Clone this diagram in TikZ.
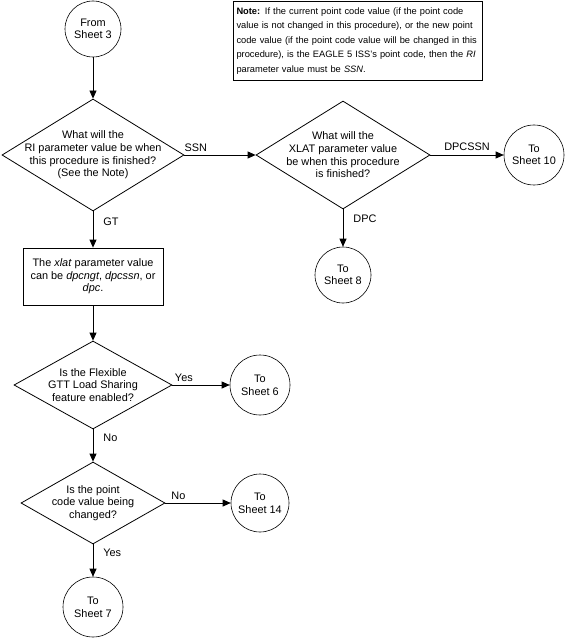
\documentclass[tikz,border=0pt]{standalone}
\usepackage{fontspec}
\setmainfont{Liberation Sans}
\usetikzlibrary{arrows.meta, shapes.geometric}

\begin{document}
\begin{tikzpicture}[
  x=1pt, y=-1pt,
  every node/.style={font=\fontsize{10.9}{12.6}\selectfont, inner sep=0pt},
  decision/.style={diamond, draw, line width=0.8pt},
  dtext/.style={align=center},
  sheet/.style={circle, draw, line width=0.6pt, minimum size=58pt, align=center},
  stepbox/.style={rectangle, draw, line width=0.8pt, align=center},
  notebox/.style={rectangle, draw, line width=1pt, inner xsep=3pt, align=left,
    font=\fontsize{9.3}{14.5}\selectfont},
  flow/.style={draw, line width=0.8pt, -{Triangle[length=8pt,width=7pt]}}
]
\useasboundingbox (0,0) rectangle (565,639);

\node[sheet, minimum size=56pt] (from3) at (93,29) {From\\Sheet 3};

\node[decision, minimum width=182pt, minimum height=112pt] (ri) at (93,155) {};
\node[dtext] (ri-txt) at (ri) {What will the\\RI parameter value be when\\this procedure is finished?\\(See the Note)};

\node[decision, minimum width=174pt, minimum height=108pt] (xlat) at (343,155) {};
\node[dtext] (xlat-txt) at (xlat) {What will the\\XLAT parameter value\\be when this procedure\\is finished?};

\node[sheet, minimum size=60pt] (sh10) at (534,155) {To\\Sheet 10};
\node[sheet, minimum size=56pt] (sh8) at (343,275) {To\\Sheet 8};

\node[stepbox, minimum width=140pt, minimum height=57pt] (xval) at (93,276.5)
  {The \textit{xlat} parameter value\\can be \textit{dpcngt}, \textit{dpcssn}, or\\\textit{dpc}.};

\node[decision, minimum width=158pt, minimum height=88pt] (flex) at (93,385) {};
\node[dtext] (flex-txt) at (flex) {Is the Flexible\\GTT Load Sharing\\feature enabled?};
\node[sheet, minimum size=60pt] (sh6) at (260,385) {To\\Sheet 6};

\node[decision, minimum width=144pt, minimum height=82pt] (pc) at (93,503) {};
\node[dtext] (pc-txt) at (pc) {Is the point\\code value being\\changed?};
\node[sheet, minimum size=58pt] (sh14) at (260,503) {To\\Sheet 14};
\node[sheet, minimum size=60pt] (sh7) at (93,607) {To\\Sheet 7};

\node[notebox, anchor=north west, minimum height=79pt, text width=243pt] (note) at (233,1)
  {\textbf{Note:} If the current point code value (if the point code\\
   value is not changed in this procedure), or the new point\\
   code value (if the point code value will be changed in this\\
   procedure), is the EAGLE 5 ISS’s point code, then the \textit{RI}\\
   parameter value must be \textit{SSN}.};

\draw[flow] (from3) -- (ri.north);
\draw[flow] (ri.east) -- (xlat.west) node[pos=0.16, above=3pt] {SSN};
\draw[flow] (xlat.east) -- (sh10.west) node[midway, above=4pt] {DPCSSN};
\draw[flow] (xlat.south) -- (sh8.north) node[pos=0.25, right=10pt] {DPC};
\draw[flow] (ri.south) -- (xval.north) node[pos=0.28, right=10pt] {GT};
\draw[flow] (xval) -- (flex.north);
\draw[flow] (flex.east) -- (sh6.west) node[pos=0.2, above=3pt] {Yes};
\draw[flow] (flex.south) -- (pc.north) node[pos=0.25, right=10pt] {No};
\draw[flow] (pc.east) -- (sh14.west) node[pos=0.2, above=3pt] {No};
\draw[flow] (pc.south) -- (sh7.north) node[pos=0.25, right=10pt] {Yes};
\end{tikzpicture}
\end{document}
